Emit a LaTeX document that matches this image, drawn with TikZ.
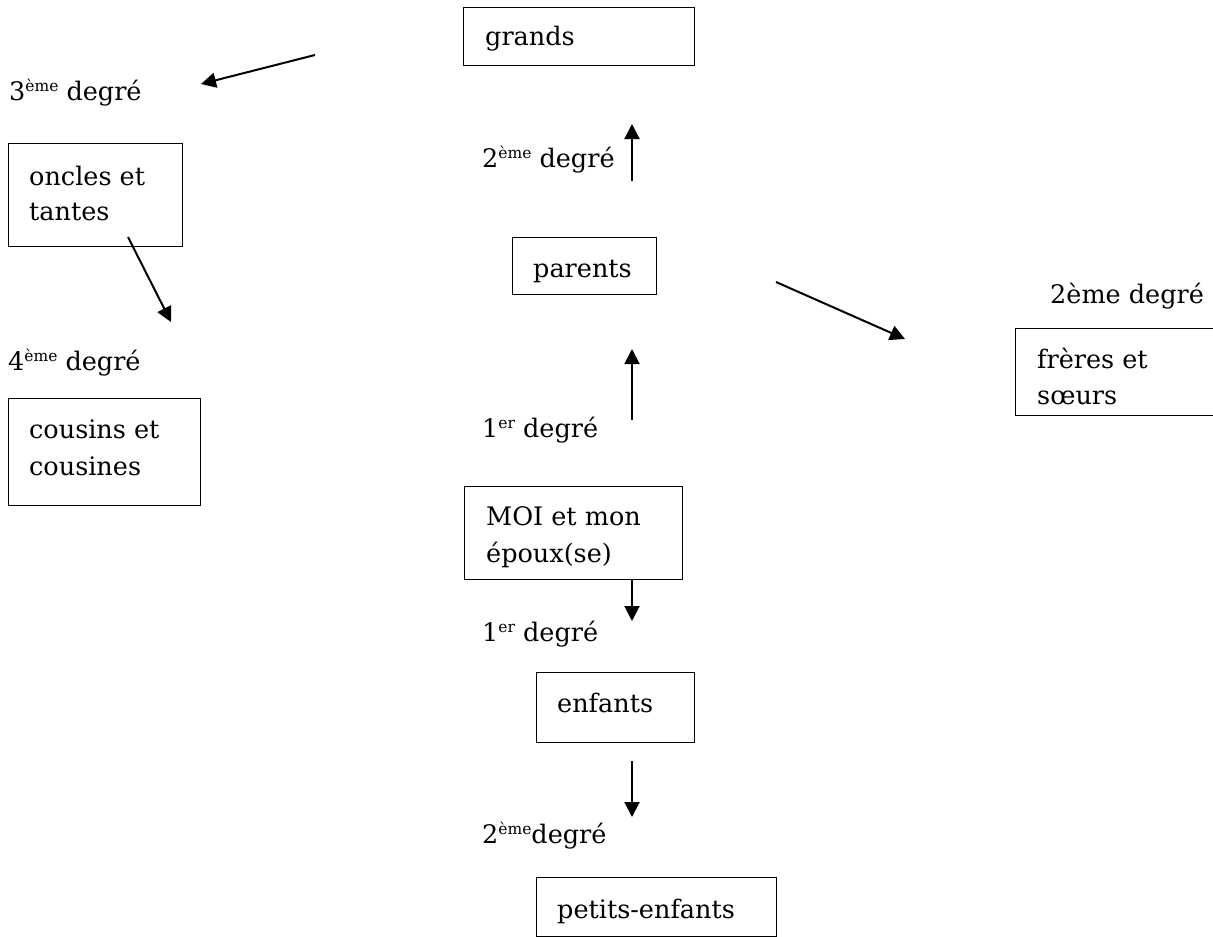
\documentclass[tikz,border=0pt]{standalone}
\usepackage{fontspec}
\setmainfont{DejaVu Serif}
\usetikzlibrary{arrows.meta}
\newcommand{\supx}[1]{\raisebox{9pt}{\fontsize{15.5}{15.5}\selectfont #1}}
\begin{document}
\begin{tikzpicture}[x=1pt,y=-1pt,
  lbl/.style={anchor=base west,inner sep=0pt,font=\fontsize{25.5}{30}\selectfont},
  box/.style={draw,line width=1.4pt,anchor=north west,inner sep=0pt,rectangle},
  arr/.style={line width=2pt,-{Triangle[length=15pt,width=15pt]}}]
\useasboundingbox (0,0) rectangle (1213,937);
% boxes
\node[box,minimum width=231pt,minimum height=58pt] (bgrands) at (463,7) {};
\node[box,minimum width=174pt,minimum height=103pt] (boncles) at (8,143) {};
\node[box,minimum width=144pt,minimum height=57pt] (bparents) at (512,237) {};
\node[box,minimum width=192pt,minimum height=107pt] (bcousins) at (8,398) {};
\node[box,minimum width=215pt,minimum height=87pt] (bfreres) at (1015,328) {};
\node[box,minimum width=218pt,minimum height=93pt] (bmoi) at (464,486) {};
\node[box,minimum width=158pt,minimum height=70pt] (benfants) at (536,672) {};
\node[box,minimum width=240pt,minimum height=59pt] (bpetits) at (536,877) {};
% box texts
\node[lbl] (tgrands) at (485,45) {grands};
\node[lbl] (toncles1) at (29,185) {oncles et};
\node[lbl] (toncles2) at (29,220) {tantes};
\node[lbl] (tparents) at (533,277) {parents};
\node[lbl] (tcousins1) at (29,438) {cousins et};
\node[lbl] (tcousins2) at (29,475) {cousines};
\node[lbl] (tfreres1) at (1037,368) {frères et};
\node[lbl] (tfreres2) at (1037,404) {sœurs};
\node[lbl] (tmoi1) at (486,525) {MOI et mon};
\node[lbl] (tmoi2) at (486,562) {époux(se)};
\node[lbl] (tenfants) at (557,712) {enfants};
\node[lbl] (tpetits) at (557,918) {petits-enfants};
% degree labels
\node[lbl] (d3) at (9,100) {3\supx{ème} degré};
\node[lbl] (d2a) at (482,167) {2\supx{ème} degré};
\node[lbl] (d4) at (8,370) {4\supx{ème} degré};
\node[lbl] (d2b) at (1050,303) {2ème degré};
\node[lbl] (d1a) at (482,437) {1\supx{er} degré};
\node[lbl] (d1b) at (482,641) {1\supx{er} degré};
\node[lbl] (d2c) at (482,843) {2\supx{ème}degré};
% arrow ends
\coordinate (a1s) at (315,55);  \coordinate (a1e) at (201,84);
\coordinate (a2s) at (632,181); \coordinate (a2e) at (632,124);
\coordinate (a3s) at (128,237); \coordinate (a3e) at (171,322);
\coordinate (a4s) at (776,282); \coordinate (a4e) at (905,339);
\coordinate (a5s) at (632,420); \coordinate (a5e) at (632,349);
\coordinate (a6s) at (632,579); \coordinate (a6e) at (632,621);
\coordinate (a7s) at (632,761); \coordinate (a7e) at (632,817);
\draw[arr] (a1s) -- (a1e);
\draw[arr] (a2s) -- (a2e);
\draw[arr] (a3s) -- (a3e);
\draw[arr] (a4s) -- (a4e);
\draw[arr] (a5s) -- (a5e);
\draw[arr] (a6s) -- (a6e);
\draw[arr] (a7s) -- (a7e);
\end{tikzpicture}
\end{document}
